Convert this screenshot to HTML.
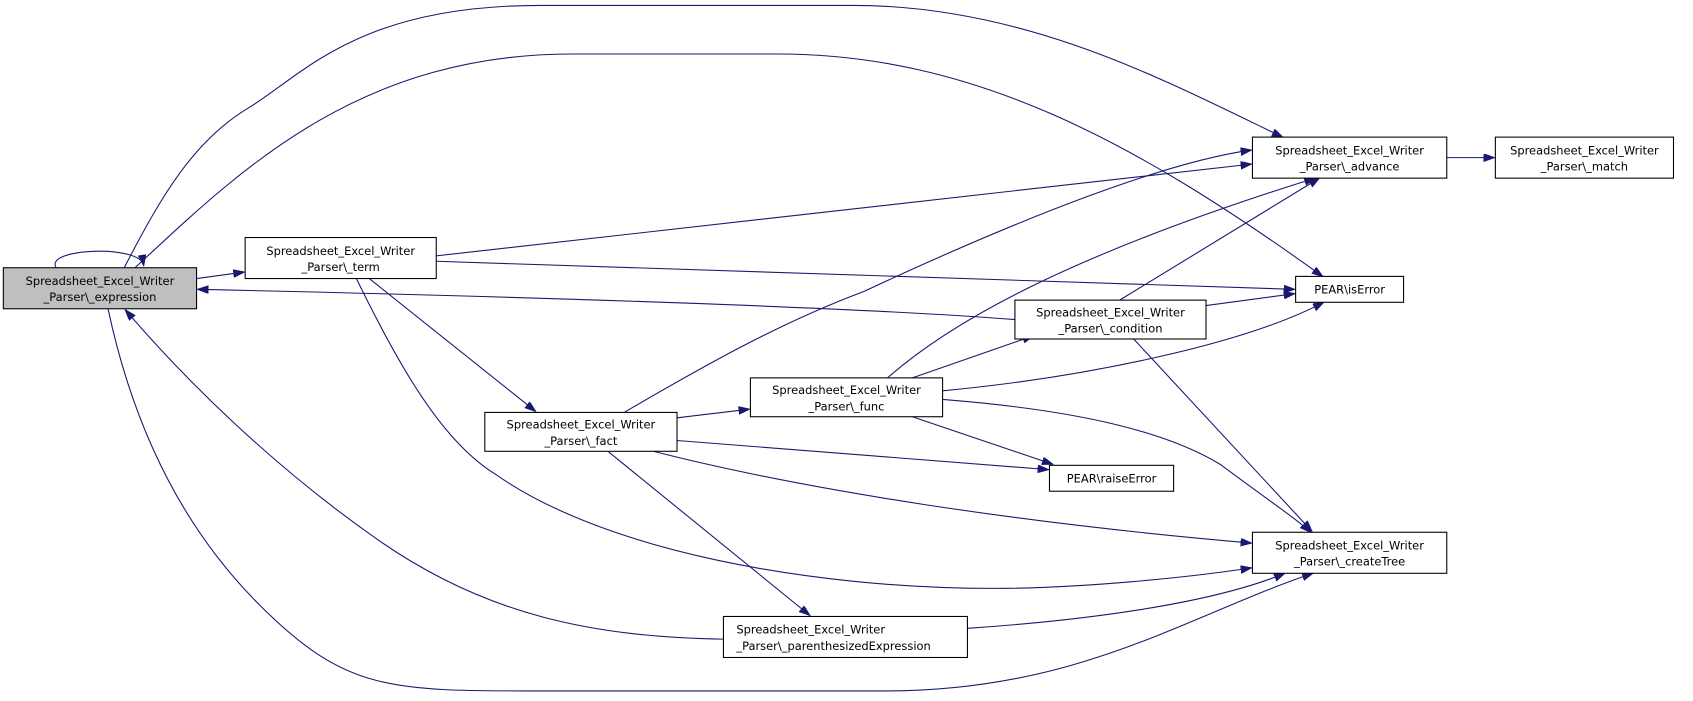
<!DOCTYPE html>
<html><head><meta charset="utf-8"><style>
html,body{margin:0;padding:0;background:#fff;width:1693px;height:701px;overflow:hidden}
svg text{font-family:"DejaVu Sans","Liberation Sans",sans-serif;font-size:10.6px;fill:#000}
</style></head><body>
<svg width="1693" height="701" viewBox="0 0 1568 649.3" xmlns="http://www.w3.org/2000/svg">
<defs><marker id="a" markerUnits="userSpaceOnUse" markerWidth="11" markerHeight="8" refX="10" refY="3.5" orient="auto"><path d="M0,0 L10,3.5 L0,7 z" fill="#191970" stroke="#191970"/></marker></defs>
<g fill="none" stroke="#191970" stroke-width="1" marker-end="url(#a)">
<path d="M52,248 C40,230 130,226 133,246"/>
<path d="M182,258 L226,252"/>
<path d="M115,248 C150,180 180,130 230,100 C280,70 330,5 500,5 L790,5 C950,5 1080,75 1188,127"/>
<path d="M125,248 C220,160 330,50 530,50 L720,50 C900,50 1050,130 1225,256"/>
<path d="M100,286 C120,380 160,480 240,560 C320,640 360,640 500,640 L820,640 C1000,640 1100,570 1216,531"/>
<path d="M404,237 L1159,152"/>
<path d="M404,242 L1199,268"/>
<path d="M342,258 L496,381"/>
<path d="M330,258 C370,340 410,410 460,440 C560,510 750,545 920,545 C1000,545 1100,535 1159,526"/>
<path d="M578,382 C650,340 720,300 800,270 C950,200 1080,150 1159,139"/>
<path d="M627,387 L694,379"/>
<path d="M627,408 L971,435"/>
<path d="M605,418 C750,455 950,485 1159,503"/>
<path d="M563,418 L750,570"/>
<path d="M822,350 C890,290 1010,230 1218,165"/>
<path d="M845,350 L957,311"/>
<path d="M873,362 C1000,350 1150,320 1226,280"/>
<path d="M845,386 L975,430"/>
<path d="M873,370 C1000,380 1080,400 1130,430 C1170,460 1200,480 1214,493"/>
<path d="M940,296 C800,285 500,275 183,268"/>
<path d="M1117,283 L1199,272"/>
<path d="M1037,278 L1222,165"/>
<path d="M1050,314 L1215,492"/>
<path d="M670,592 C550,590 450,570 350,500 C250,430 170,350 116,287"/>
<path d="M896,582 C1000,575 1120,560 1190,531"/>
<path d="M1340,146 L1384,146"/>
</g>
<g stroke="#000" stroke-width="1">
<rect x="3" y="248" width="179" height="38" fill="#bfbfbf"/>
<rect x="227" y="220" width="177" height="38" fill="#fff"/>
<rect x="1160" y="127" width="180" height="38" fill="#fff"/>
<rect x="1385" y="127" width="165" height="38" fill="#fff"/>
<rect x="1200" y="256" width="100" height="24" fill="#fff"/>
<rect x="940" y="278" width="177" height="36" fill="#fff"/>
<rect x="695" y="350" width="178" height="36" fill="#fff"/>
<rect x="449" y="382" width="178" height="36" fill="#fff"/>
<rect x="972" y="431" width="115" height="24" fill="#fff"/>
<rect x="1160" y="493" width="180" height="38" fill="#fff"/>
<rect x="670" y="571" width="226" height="38" fill="#fff"/>
</g>
<g text-anchor="middle">
<text x="92.5" y="264">Spreadsheet_Excel_Writer</text><text x="92.5" y="279">_Parser\_expression</text>
<text x="315.5" y="236">Spreadsheet_Excel_Writer</text><text x="315.5" y="251">_Parser\_term</text>
<text x="1250" y="143">Spreadsheet_Excel_Writer</text><text x="1250" y="158">_Parser\_advance</text>
<text x="1467.5" y="143">Spreadsheet_Excel_Writer</text><text x="1467.5" y="158">_Parser\_match</text>
<text x="1250" y="272">PEAR\isError</text>
<text x="1028.5" y="293">Spreadsheet_Excel_Writer</text><text x="1028.5" y="308">_Parser\_condition</text>
<text x="784" y="365">Spreadsheet_Excel_Writer</text><text x="784" y="380">_Parser\_func</text>
<text x="538" y="397">Spreadsheet_Excel_Writer</text><text x="538" y="412">_Parser\_fact</text>
<text x="1029.5" y="447">PEAR\raiseError</text>
<text x="1250" y="509">Spreadsheet_Excel_Writer</text><text x="1250" y="524">_Parser\_createTree</text>
</g>
<text x="682" y="587">Spreadsheet_Excel_Writer</text><text x="682" y="602">_Parser\_parenthesizedExpression</text>
</svg>
</body></html>
